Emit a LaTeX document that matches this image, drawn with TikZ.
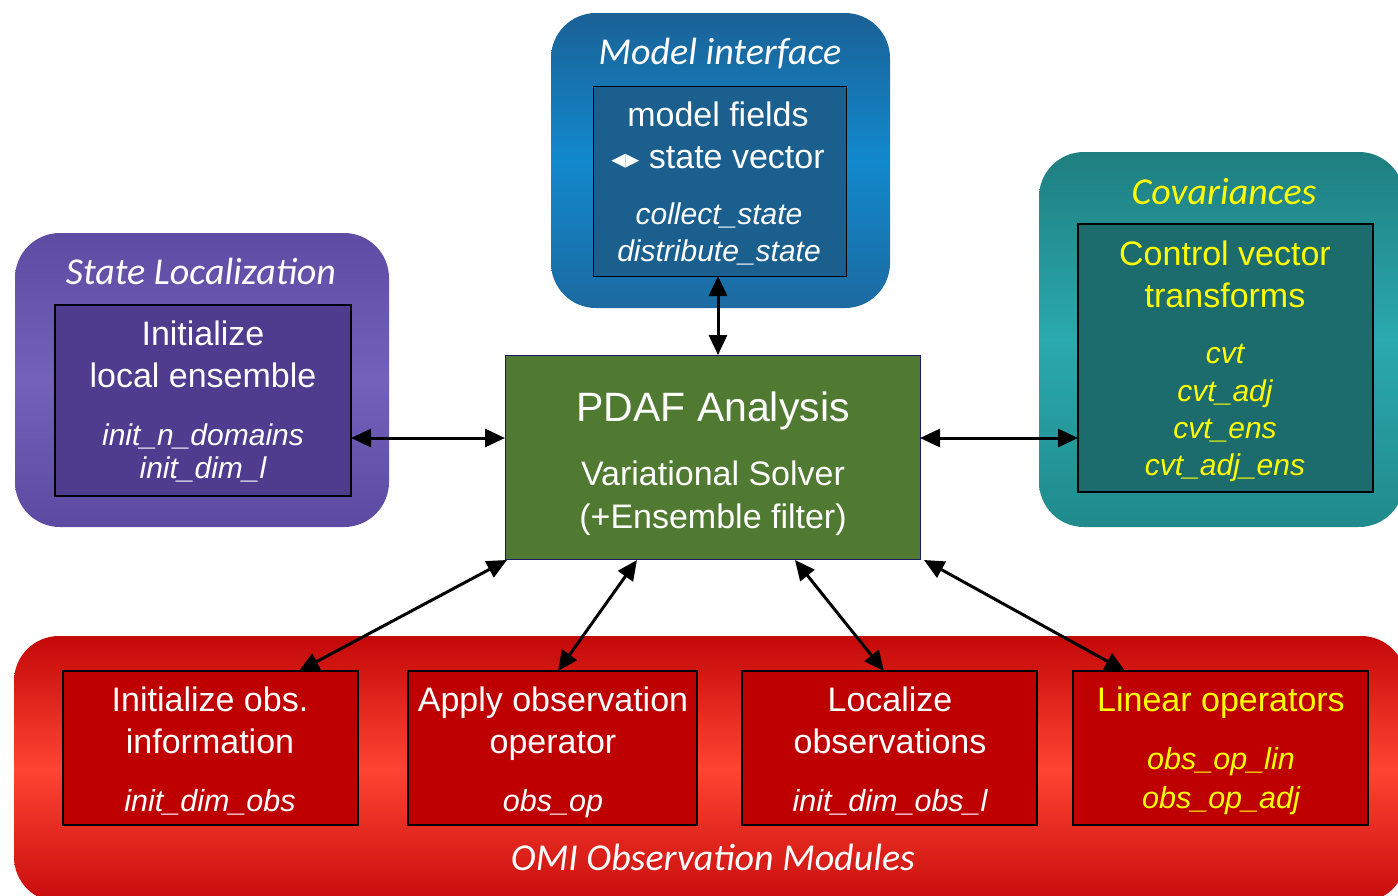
\documentclass[tikz,border=0pt]{standalone}
\usepackage{fontspec}
\setmainfont{Liberation Sans}
\newfontfamily\calfont{Carlito}
\newfontfamily\dejavu{DejaVu Sans}
\usetikzlibrary{arrows.meta,calc}
\definecolor{miTop}{HTML}{1A6196}
\definecolor{miMid}{HTML}{1289CD}
\definecolor{miBot}{HTML}{1C6AA0}
\definecolor{miIn}{HTML}{1B5F8E}
\definecolor{slTop}{HTML}{5E4BA3}
\definecolor{slMid}{HTML}{7262BB}
\definecolor{slBot}{HTML}{5C4AA2}
\definecolor{slIn}{HTML}{4F3C8E}
\definecolor{cvTop}{HTML}{1F7E80}
\definecolor{cvMid}{HTML}{2AA9AE}
\definecolor{cvBot}{HTML}{208A8C}
\definecolor{cvIn}{HTML}{1C6B6D}
\definecolor{pdafG}{HTML}{507A32}
\definecolor{pdafB}{HTML}{1A1A6A}
\definecolor{omTop}{HTML}{C30808}
\definecolor{omMid}{HTML}{FF4433}
\definecolor{omBot}{HTML}{C80C0C}
\definecolor{omIn}{HTML}{BF0000}
\definecolor{yel}{HTML}{FFFF00}
\tikzset{
  outerbox/.style={rounded corners=45pt, inner sep=0pt, outer sep=0pt, anchor=north west},
  inbox/.style={draw=black, line width=1.5pt, inner sep=0pt, outer sep=0pt, anchor=north west},
  biarrow/.style={line width=3pt, {Triangle[length=20pt,width=18pt]}-{Triangle[length=20pt,width=18pt]}},
  ttl/.style={font=\calfont\itshape\fontsize{38}{44}\selectfont, text=white, inner sep=0pt, text height=24.5pt, text depth=0pt},
  maintxt/.style={font=\fontsize{34}{42}\selectfont, text=white, inner sep=0pt, align=center, text height=24.5pt, text depth=0pt},
  ittxt/.style={font=\itshape\fontsize{30}{37}\selectfont, text=white, inner sep=0pt, align=center, text height=21.6pt, text depth=0pt},
  obtxt/.style={maintxt, font=\fontsize{34}{42}\selectfont},
  obit/.style={ittxt, font=\itshape\fontsize{30.5}{37}\selectfont, text height=22pt}
}
\begin{document}
\begin{tikzpicture}[x=1pt,y=-1pt]
\useasboundingbox (0,0) rectangle (1398,895);
\fill[white] (0,0) rectangle (1398,895);

% outer group boxes
\node[outerbox, top color=miTop, bottom color=miBot, middle color=miMid, minimum width=339pt, minimum height=295pt] (mi) at (551,13) {};
\node[outerbox, top color=slTop, bottom color=slBot, middle color=slMid, minimum width=374pt, minimum height=294pt] (sl) at (15,233) {};
\node[outerbox, top color=cvTop, bottom color=cvBot, middle color=cvMid, minimum width=365pt, minimum height=375pt] (cv) at (1039,152) {};
\node[outerbox, top color=omTop, bottom color=omBot, middle color=omMid, minimum width=1392pt, minimum height=266pt] (om) at (14,636) {};

% inner boxes
\node[inbox, fill=miIn, line width=1pt, minimum width=253pt, minimum height=190pt] (mii) at (593,86) {};
\node[inbox, fill=slIn, minimum width=296pt, minimum height=191pt] (sli) at (55,305) {};
\node[inbox, fill=cvIn, minimum width=295pt, minimum height=268pt] (cvi) at (1078,224) {};
\node[inbox, fill=pdafG, draw=pdafB, line width=1pt, minimum width=415pt, minimum height=204pt] (pdaf) at (505,355) {};
\node[inbox, fill=omIn, minimum width=295pt, minimum height=154pt] (o1) at (63,671) {};
\node[inbox, fill=omIn, minimum width=289pt, minimum height=154pt] (o2) at (408,671) {};
\node[inbox, fill=omIn, minimum width=295pt, minimum height=154pt] (o3) at (742,671) {};
\node[inbox, fill=omIn, minimum width=295pt, minimum height=154pt] (o4) at (1073,671) {};

% titles
\node[ttl] (miT) at (720,52) {Model interface};
\node[ttl] (slT) at (201,272) {State Localization};
\node[ttl, text=yel] (cvT) at (1224,192) {Covariances};
\node[ttl] (omT) at (713,858) {OMI Observation Modules};

% model interface text
\node[maintxt] (miA) at (718,114) {model fields};
\node[maintxt] (miB) at (718,156) {{\dejavu\fontsize{28}{28}\selectfont ◂▸}\ state vector};
\node[ittxt] (miC) at (719,214) {collect\_state};
\node[ittxt] (miD) at (719,251) {distribute\_state};

% state localization text
\node[maintxt] (slA) at (203,333) {Initialize};
\node[maintxt] (slB) at (203,375) {local ensemble};
\node[ittxt] (slC) at (203,435) {init\_n\_domains};
\node[ittxt] (slD) at (203,468) {init\_dim\_l};

% covariances text
\node[maintxt, text=yel] (cvA) at (1225,253) {Control vector};
\node[maintxt, text=yel] (cvB) at (1225,295) {transforms};
\node[ittxt, text=yel] (cvC) at (1225,353) {cvt};
\node[ittxt, text=yel] (cvD) at (1225,391) {cvt\_adj};
\node[ittxt, text=yel] (cvE) at (1225,428) {cvt\_ens};
\node[ittxt, text=yel] (cvF) at (1225,465) {cvt\_adj\_ens};

% PDAF text
\node[maintxt, font=\fontsize{41}{48}\selectfont, text height=29.5pt] (pA) at (713,407) {PDAF Analysis};
\node[maintxt] (pB) at (713,473) {Variational Solver};
\node[maintxt] (pC) at (713,516) {(+Ensemble filter)};

% observation modules text
\node[obtxt] (o1A) at (210,699) {Initialize obs.};
\node[obtxt] (o1B) at (210,741) {information};
\node[obit] (o1C) at (210,800) {init\_dim\_obs};
\node[obtxt] (o2A) at (553,699) {Apply observation};
\node[obtxt] (o2B) at (553,741) {operator};
\node[obit] (o2C) at (553,800) {obs\_op};
\node[obtxt] (o3A) at (890,699) {Localize};
\node[obtxt] (o3B) at (890,741) {observations};
\node[obit] (o3C) at (890,800) {init\_dim\_obs\_l};
\node[obtxt, text=yel] (o4A) at (1221,699) {Linear operators};
\node[obit, text=yel] (o4B) at (1221,758) {obs\_op\_lin};
\node[obit, text=yel] (o4C) at (1221,797) {obs\_op\_adj};

% connectors
\draw[biarrow] ($(mii.south west)+(125,0)$) -- ($(pdaf.north west)+(213,0)$);
\draw[biarrow] ($(sli.north east)+(0,133)$) -- ($(pdaf.north west)+(0,83)$);
\draw[biarrow] ($(pdaf.north east)+(0,83)$) -- ($(cvi.north west)+(0,214)$);
\draw[biarrow] ($(pdaf.south west)+(2,1)$) -- ($(o1.north west)+(236,0)$);
\draw[biarrow] ($(pdaf.south west)+(132,1)$) -- ($(o2.north west)+(150,0)$);
\draw[biarrow] ($(pdaf.south west)+(290,1)$) -- ($(o3.north west)+(142,0)$);
\draw[biarrow] ($(pdaf.south east)+(4,1)$) -- ($(o4.north west)+(52,0)$);
\end{tikzpicture}
\end{document}
